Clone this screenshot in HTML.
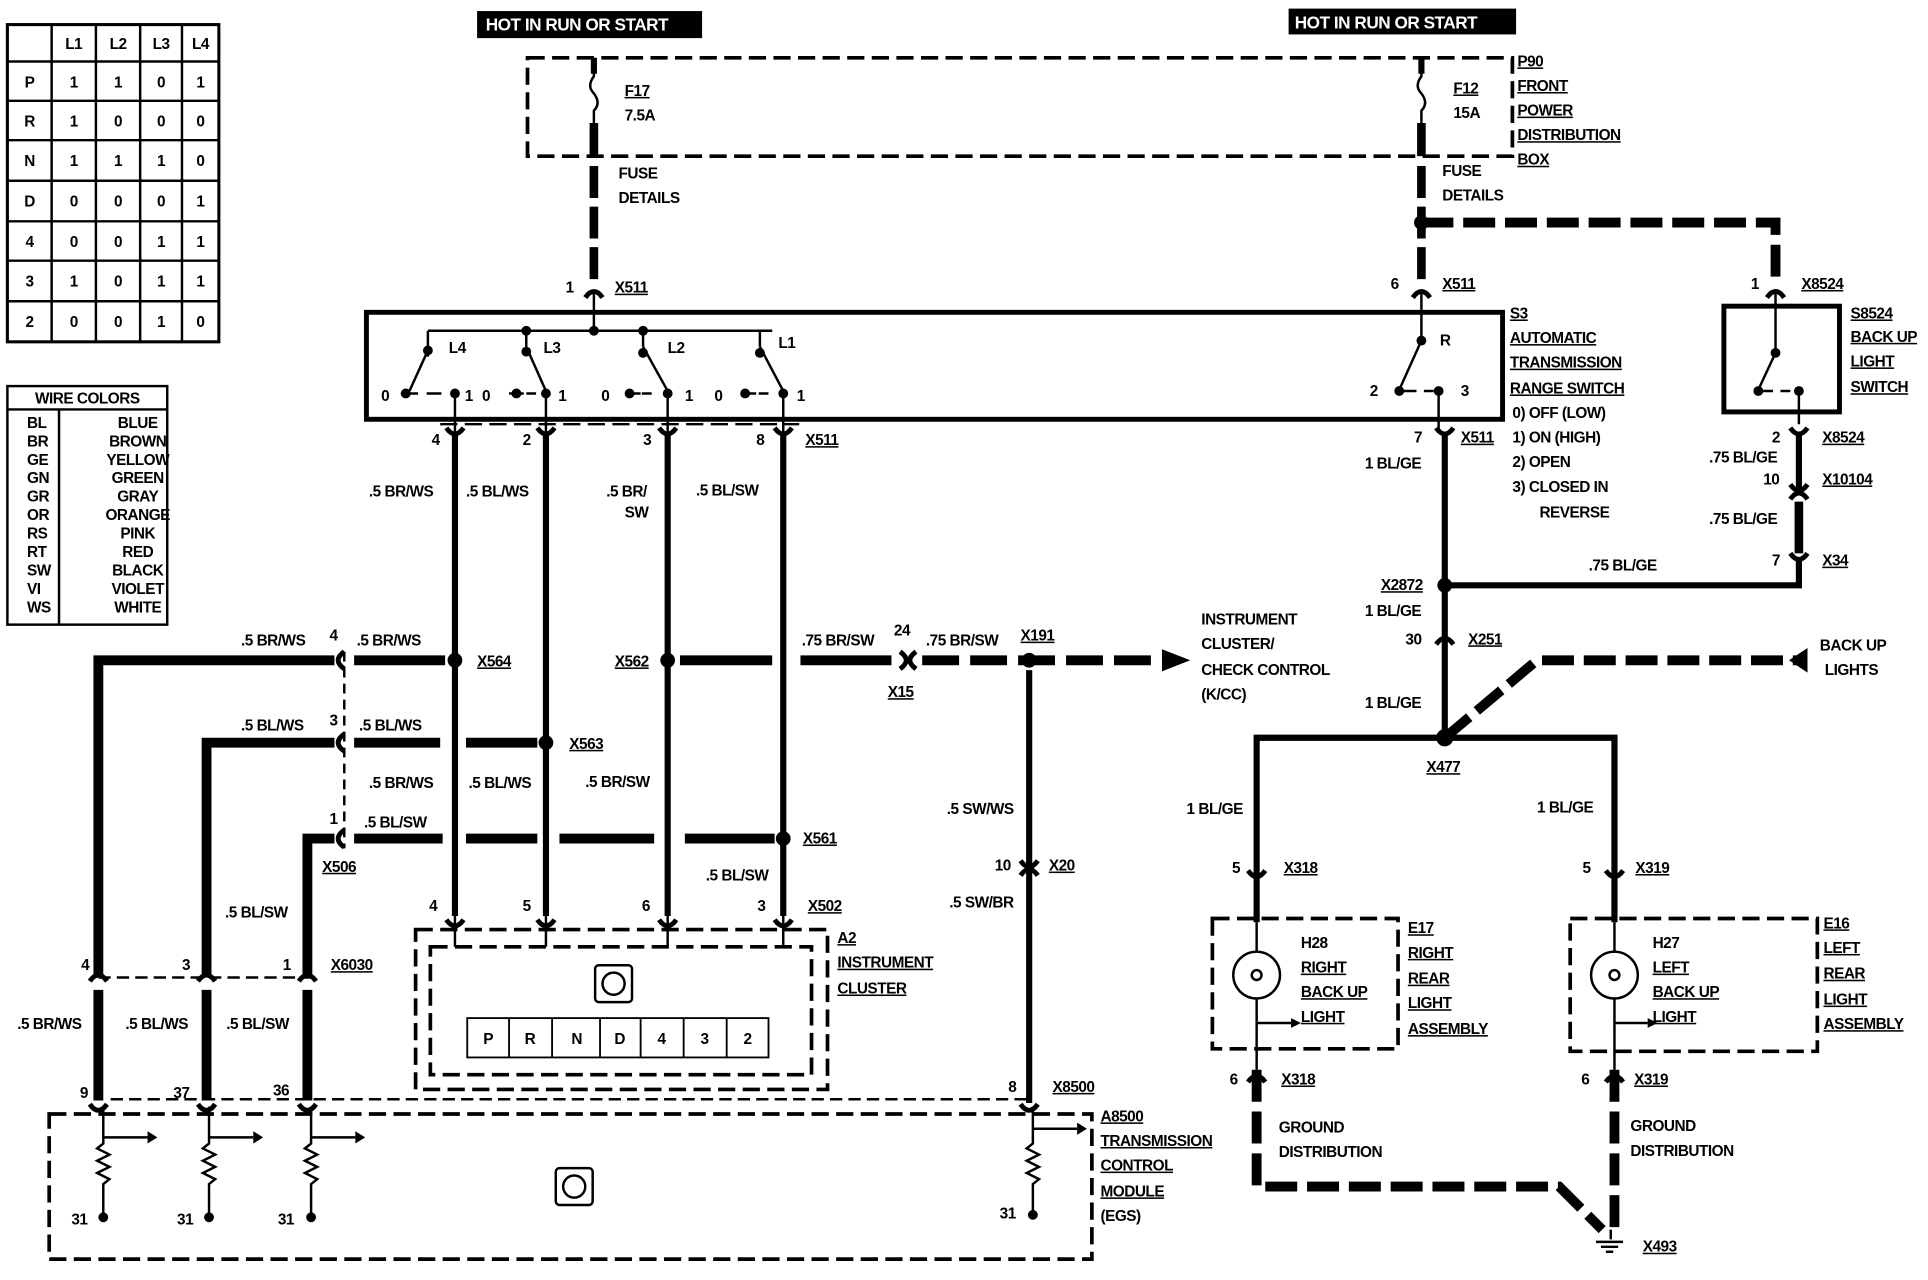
<!DOCTYPE html>
<html><head><meta charset="utf-8"><style>
html,body{margin:0;padding:0;background:#fff}
svg{display:block}
text{font-family:"Liberation Sans",sans-serif;font-size:12.5px;font-weight:bold;fill:#000;letter-spacing:-0.4px}
.u{text-decoration:underline}
</style></head><body>
<svg width="1928" height="1280" viewBox="0 0 1568 1041" preserveAspectRatio="none" xmlns="http://www.w3.org/2000/svg">
<rect width="1568" height="1041" fill="#fff"/>
<g fill="none" stroke="#000">
<rect x="6" y="20" width="172" height="258" stroke-width="2.5"/>
<g stroke-width="2">
<line x1="42" y1="20" x2="42" y2="278"/><line x1="78" y1="20" x2="78" y2="278"/><line x1="114" y1="20" x2="114" y2="278"/><line x1="148" y1="20" x2="148" y2="278"/>
<line x1="6" y1="50" x2="178" y2="50"/><line x1="6" y1="82" x2="178" y2="82"/><line x1="6" y1="114" x2="178" y2="114"/><line x1="6" y1="147" x2="178" y2="147"/><line x1="6" y1="180" x2="178" y2="180"/><line x1="6" y1="212" x2="178" y2="212"/><line x1="6" y1="245" x2="178" y2="245"/>
</g>
<rect x="6" y="314" width="130" height="194" stroke-width="2"/>
<line x1="6" y1="333" x2="136" y2="333" stroke-width="2"/>
<line x1="48" y1="333" x2="48" y2="508" stroke-width="2"/>
<rect x="429" y="47" width="801" height="80" stroke-width="3" stroke-dasharray="14 6"/>
<path d="M483 47 V62 q-6 8 0 14 q6 8 0 14 V100" stroke-width="2"/>
<path d="M1156 47 V62 q-6 8 0 14 q6 8 0 14 V100" stroke-width="2"/>
<line x1="483" y1="47" x2="483" y2="60" stroke-width="5"/>
<line x1="1156" y1="47" x2="1156" y2="60" stroke-width="5"/>
<line x1="483" y1="100" x2="483" y2="127" stroke-width="7"/>
<line x1="1156" y1="100" x2="1156" y2="127" stroke-width="7"/>
<line x1="483" y1="135" x2="483" y2="232" stroke-width="7" stroke-dasharray="26 7"/>
<line x1="1156" y1="135" x2="1156" y2="232" stroke-width="7" stroke-dasharray="26 7"/>
<path d="M1156 181 H1444 V232" stroke-width="8" stroke-dasharray="26 8"/>
<rect x="298" y="254" width="924" height="87" stroke-width="4"/>
<path d="M483 238 V269 M348 269 H628 M348 269 V290 M428 269 V282 M523 269 V282 M618 269 V282" stroke-width="2"/>
<g stroke-width="2">
<path d="M348 285 L333 318 M326 320 h14 M347 320 h12"/>
<path d="M428 282 L444 318 M414 320 h12 M428 320 h8"/>
<path d="M523 282 L543 318 M509 320 h12 M522 320 h8"/>
<path d="M618 282 L637 318 M603 320 h12 M617 320 h8"/>
<path d="M1156 238 V277 L1138 317 M1140 318 h12 M1158 318 h8"/>
<path d="M370 320 V352 M444 320 V352 M543 320 V352 M637 320 V352 M1170 318 V352"/>
</g>
<rect x="1402" y="249" width="94" height="86" stroke-width="4"/>
<path d="M1444 238 V287 L1430 317 M1432 318 h10 M1448 318 h8 M1463 318 V345" stroke-width="2"/>
<g stroke-width="5">
<line x1="370" y1="352" x2="370" y2="745"/><line x1="444" y1="352" x2="444" y2="745"/><line x1="543" y1="352" x2="543" y2="745"/><line x1="637" y1="352" x2="637" y2="745"/>
<line x1="1175" y1="352" x2="1175" y2="600"/>
<line x1="1463" y1="352" x2="1463" y2="400"/>
<path d="M1175 476 H1463 V455"/>
<path d="M1022 750 V600 H1313 V750" />
<line x1="837" y1="545" x2="837" y2="897"/>
</g>
<line x1="1463" y1="408" x2="1463" y2="450" stroke-width="7"/>
<path d="M1175 600 L1250 537 H1465" stroke-width="8" stroke-dasharray="26 8"/>
<path d="M358 345 H650" stroke-width="2" stroke-dasharray="14 6"/>
<g stroke-width="8">
<path d="M80 795 V537 H272"/><path d="M168 795 V604 H272"/><path d="M250 795 V682 H272"/>
<line x1="80" y1="805" x2="80" y2="895"/><line x1="168" y1="805" x2="168" y2="895"/><line x1="250" y1="805" x2="250" y2="895"/>
<line x1="288" y1="537" x2="362" y2="537"/>
<line x1="553" y1="537" x2="628" y2="537"/>
<line x1="651" y1="537" x2="725" y2="537"/>
<line x1="288" y1="604" x2="358" y2="604"/>
<line x1="379" y1="604" x2="437" y2="604"/>
<line x1="288" y1="682" x2="360" y2="682"/>
<line x1="379" y1="682" x2="437" y2="682"/>
<line x1="455" y1="682" x2="532" y2="682"/>
<line x1="557" y1="682" x2="630" y2="682"/>
</g>
<line x1="750" y1="537" x2="945" y2="537" stroke-width="8" stroke-dasharray="30 9"/>
<path d="M280 530 V690" stroke-width="2" stroke-dasharray="8 5"/>
<path d="M80 795 H255" stroke-width="2" stroke-dasharray="10 5"/>
<path d="M90 894 H837" stroke-width="2" stroke-dasharray="10 5"/>
<rect x="338" y="756" width="335" height="130" stroke-width="3" stroke-dasharray="14 6"/>
<rect x="350" y="770" width="310" height="104" stroke-width="3" stroke-dasharray="14 6"/>
<path d="M370 745 V770 M444 745 V770 M543 745 V770 M637 745 V770" stroke-width="2"/>
<rect x="484" y="785" width="30" height="30" rx="3" stroke-width="2"/>
<circle cx="499" cy="800" r="9" stroke-width="2"/>
<rect x="380" y="828" width="245" height="32" stroke-width="1.5"/>
<path d="M414 828 V860 M449 828 V860 M488 828 V860 M521 828 V860 M556 828 V860 M591 828 V860" stroke-width="1.5"/>
<rect x="40" y="906" width="848" height="118" stroke-width="3" stroke-dasharray="14 6"/>
<rect x="452" y="950" width="30" height="30" rx="3" stroke-width="2"/>
<circle cx="467" cy="965" r="9" stroke-width="2"/>
<g stroke-width="2">
<path d="M84 900 V930 l-5 4 10 5 -10 5 10 5 -10 5 10 5 -5 4 V990 M84 925 H120"/>
<path d="M170 900 V930 l-5 4 10 5 -10 5 10 5 -10 5 10 5 -5 4 V990 M170 925 H206"/>
<path d="M253 900 V930 l-5 4 10 5 -10 5 10 5 -10 5 10 5 -5 4 V990 M253 925 H289"/>
<path d="M840 900 V930 l-5 4 10 5 -10 5 10 5 -10 5 10 5 -5 4 V990 M840 918 H876"/>
</g>
<rect x="986" y="747" width="151" height="106" stroke-width="3" stroke-dasharray="14 6"/>
<rect x="1277" y="747" width="201" height="108" stroke-width="3" stroke-dasharray="14 6"/>
<circle cx="1022" cy="793" r="19" stroke-width="2"/>
<circle cx="1313" cy="793" r="19" stroke-width="2"/>
<path d="M1022 750 V774 M1022 812 V870 M1022 832 H1050 M1313 750 V774 M1313 812 V870 M1313 832 H1340" stroke-width="2"/>
<path d="M1022 870 V965 H1268 L1303 1000" stroke-width="8" stroke-dasharray="26 8"/>
<path d="M1313 870 V1000" stroke-width="8" stroke-dasharray="26 8"/>
<path d="M1310 1000 V1008 M1298 1010 H1320 M1302 1014 H1316 M1306 1018 H1312" stroke-width="2"/>
</g>
<g fill="none" stroke="#000" stroke-width="4">
<path d="M476 242 q7-10 14 0"/><path d="M1149 242 q7-10 14 0"/><path d="M1437 242 q7-10 14 0"/>
<path d="M363 348 q7 10 14 0"/><path d="M437 348 q7 10 14 0"/><path d="M536 348 q7 10 14 0"/><path d="M630 348 q7 10 14 0"/>
<path d="M1168 348 q7 10 14 0"/><path d="M1456 348 q7 10 14 0"/><path d="M1456 394 q7 10 14 0"/><path d="M1456 406 q7-10 14 0"/><path d="M1456 450 q7 10 14 0"/>
<path d="M1168 524 q7-10 14 0"/>
<path d="M363 748 q7 10 14 0"/><path d="M437 748 q7 10 14 0"/><path d="M536 748 q7 10 14 0"/><path d="M630 748 q7 10 14 0"/>
<path d="M73 798 q7-10 14 0"/><path d="M161 798 q7-10 14 0"/><path d="M243 798 q7-10 14 0"/>
<path d="M73 898 q7 10 14 0"/><path d="M161 898 q7 10 14 0"/><path d="M243 898 q7 10 14 0"/><path d="M830 898 q7 10 14 0"/>
<path d="M830 712 q7-10 14 0"/><path d="M830 700 q7 10 14 0"/>
<path d="M1015 708 q7 10 14 0"/><path d="M1306 708 q7 10 14 0"/>
<path d="M1015 880 q7-10 14 0"/><path d="M1306 880 q7-10 14 0"/>
<path d="M280 530 q-10 7 0 14"/><path d="M280 597 q-10 7 0 14"/><path d="M280 675 q-10 7 0 14"/>
<path d="M745 530 q-10 7 0 14"/><path d="M732 530 q10 7 0 14"/>
</g>
<g fill="#000">
<circle cx="483" cy="269" r="4"/><circle cx="428" cy="269" r="4"/><circle cx="523" cy="269" r="4"/><circle cx="348" cy="285" r="4"/><circle cx="428" cy="286" r="4"/><circle cx="523" cy="287" r="4"/><circle cx="618" cy="287" r="4"/>
<circle cx="330" cy="320" r="4"/><circle cx="370" cy="320" r="4"/><circle cx="420" cy="320" r="4"/><circle cx="444" cy="320" r="4"/><circle cx="512" cy="320" r="4"/><circle cx="543" cy="320" r="4"/><circle cx="606" cy="320" r="4"/><circle cx="637" cy="320" r="4"/>
<circle cx="1156" cy="277" r="4"/><circle cx="1138" cy="318" r="4"/><circle cx="1170" cy="318" r="4"/><circle cx="1444" cy="287" r="4"/><circle cx="1430" cy="318" r="4"/><circle cx="1463" cy="318" r="4"/>
<circle cx="1156" cy="181" r="6"/><circle cx="1175" cy="476" r="6"/><circle cx="1175" cy="600" r="7"/>
<circle cx="370" cy="537" r="6"/><circle cx="543" cy="537" r="6"/><circle cx="444" cy="604" r="6"/><circle cx="637" cy="682" r="6"/><circle cx="837" cy="537" r="6"/>
<circle cx="84" cy="990" r="4"/><circle cx="170" cy="990" r="4"/><circle cx="253" cy="990" r="4"/><circle cx="840" cy="988" r="4"/>
<polygon points="945,528 968,537 945,546"/><polygon points="1470,527 1470,547 1455,537"/>
<polygon points="120,920 128,925 120,930"/><polygon points="206,920 214,925 206,930"/><polygon points="289,920 297,925 289,930"/><polygon points="876,913 884,918 876,923"/>
<polygon points="1050,828 1058,832 1050,836"/><polygon points="1340,828 1348,832 1340,836"/>
<circle cx="1022" cy="793" r="4" fill="none" stroke="#000" stroke-width="2"/><circle cx="1313" cy="793" r="4" fill="none" stroke="#000" stroke-width="2"/>
<rect x="388" y="9" width="183" height="22"/><rect x="1048" y="7" width="185" height="21"/>
</g>
<text x="395" y="25" style="fill:#fff;font-size:14px">HOT IN RUN OR START</text>
<text x="1053" y="23" style="fill:#fff;font-size:14px">HOT IN RUN OR START</text>
<g text-anchor="middle">
<text x="60" y="40">L1</text><text x="96" y="40">L2</text><text x="131" y="40">L3</text><text x="163" y="40">L4</text>
<text x="24" y="71">P</text><text x="60" y="71">1</text><text x="96" y="71">1</text><text x="131" y="71">0</text><text x="163" y="71">1</text>
<text x="24" y="103">R</text><text x="60" y="103">1</text><text x="96" y="103">0</text><text x="131" y="103">0</text><text x="163" y="103">0</text>
<text x="24" y="135">N</text><text x="60" y="135">1</text><text x="96" y="135">1</text><text x="131" y="135">1</text><text x="163" y="135">0</text>
<text x="24" y="168">D</text><text x="60" y="168">0</text><text x="96" y="168">0</text><text x="131" y="168">0</text><text x="163" y="168">1</text>
<text x="24" y="201">4</text><text x="60" y="201">0</text><text x="96" y="201">0</text><text x="131" y="201">1</text><text x="163" y="201">1</text>
<text x="24" y="233">3</text><text x="60" y="233">1</text><text x="96" y="233">0</text><text x="131" y="233">1</text><text x="163" y="233">1</text>
<text x="24" y="266">2</text><text x="60" y="266">0</text><text x="96" y="266">0</text><text x="131" y="266">1</text><text x="163" y="266">0</text>
<text x="71" y="328">WIRE COLORS</text>
<text x="112" y="348">BLUE</text><text x="112" y="363">BROWN</text><text x="112" y="378">YELLOW</text><text x="112" y="393">GREEN</text><text x="112" y="408">GRAY</text><text x="112" y="423">ORANGE</text><text x="112" y="438">PINK</text><text x="112" y="453">RED</text><text x="112" y="468">BLACK</text><text x="112" y="483">VIOLET</text><text x="112" y="498">WHITE</text>
</g>
<text x="22" y="348">BL</text><text x="22" y="363">BR</text><text x="22" y="378">GE</text><text x="22" y="393">GN</text><text x="22" y="408">GR</text><text x="22" y="423">OR</text><text x="22" y="438">RS</text><text x="22" y="453">RT</text><text x="22" y="468">SW</text><text x="22" y="483">VI</text><text x="22" y="498">WS</text>
<text x="508" y="78" class="u">F17</text><text x="508" y="98">7.5A</text>
<text x="1182" y="76" class="u">F12</text><text x="1182" y="96">15A</text>
<text x="503" y="145">FUSE</text><text x="503" y="165">DETAILS</text>
<text x="1173" y="143">FUSE</text><text x="1173" y="163">DETAILS</text>
<text x="1234" y="54" class="u">P90</text><text x="1234" y="74" class="u">FRONT</text><text x="1234" y="94" class="u">POWER</text><text x="1234" y="114" class="u">DISTRIBUTION</text><text x="1234" y="134" class="u">BOX</text>
<text x="460" y="238">1</text><text x="500" y="238" class="u">X511</text>
<text x="1131" y="235">6</text><text x="1173" y="235" class="u">X511</text>
<text x="1424" y="235">1</text><text x="1465" y="235" class="u">X8524</text>
<text x="365" y="287">L4</text><text x="442" y="287">L3</text><text x="543" y="287">L2</text><text x="633" y="283">L1</text>
<text x="310" y="326">0</text><text x="378" y="326">1</text><text x="392" y="326">0</text><text x="454" y="326">1</text><text x="489" y="326">0</text><text x="557" y="326">1</text><text x="581" y="326">0</text><text x="648" y="326">1</text>
<text x="1171" y="281">R</text><text x="1114" y="322">2</text><text x="1188" y="322">3</text>
<text x="1228" y="259" class="u">S3</text><text x="1228" y="279" class="u">AUTOMATIC</text><text x="1228" y="299" class="u">TRANSMISSION</text><text x="1228" y="320" class="u">RANGE SWITCH</text>
<text x="1230" y="340">0)   OFF (LOW)</text><text x="1230" y="360">1)   ON (HIGH)</text><text x="1230" y="380">2)   OPEN</text><text x="1230" y="400">3)   CLOSED IN</text><text x="1252" y="421">REVERSE</text>
<text x="1505" y="259" class="u">S8524</text><text x="1505" y="278" class="u">BACK UP</text><text x="1505" y="298" class="u">LIGHT</text><text x="1505" y="319" class="u">SWITCH</text>
<text x="351" y="362">4</text><text x="425" y="362">2</text><text x="523" y="362">3</text><text x="615" y="362">8</text><text x="655" y="362" class="u">X511</text>
<text x="1150" y="360">7</text><text x="1188" y="360" class="u">X511</text>
<text x="1110" y="381">1 BL/GE</text>
<text x="1441" y="360">2</text><text x="1482" y="360" class="u">X8524</text>
<text x="1390" y="376">.75 BL/GE</text><text x="1434" y="394">10</text><text x="1482" y="394" class="u">X10104</text>
<text x="1390" y="426">.75 BL/GE</text><text x="1441" y="460">7</text><text x="1482" y="460" class="u">X34</text>
<text x="1292" y="464">.75 BL/GE</text>
<text x="1123" y="480" class="u">X2872</text><text x="1110" y="501">1 BL/GE</text>
<text x="1143" y="524">30</text><text x="1194" y="524" class="u">X251</text>
<text x="1110" y="576">1 BL/GE</text><text x="1160" y="628" class="u">X477</text>
<text x="1480" y="529">BACK UP</text><text x="1484" y="549">LIGHTS</text>
<text x="977" y="508">INSTRUMENT</text><text x="977" y="528">CLUSTER/</text><text x="977" y="549">CHECK CONTROL</text><text x="977" y="569">(K/CC)</text>
<text x="300" y="404">.5 BR/WS</text><text x="379" y="404">.5 BL/WS</text><text x="493" y="404">.5 BR/</text><text x="508" y="421">SW</text><text x="566" y="403">.5 BL/SW</text>
<text x="196" y="525">.5 BR/WS</text><text x="268" y="521">4</text><text x="290" y="525">.5 BR/WS</text><text x="388" y="542" class="u">X564</text>
<text x="500" y="542" class="u">X562</text><text x="652" y="525">.75 BR/SW</text><text x="727" y="517">24</text><text x="753" y="525">.75 BR/SW</text><text x="830" y="521" class="u">X191</text><text x="722" y="567" class="u">X15</text>
<text x="196" y="594">.5 BL/WS</text><text x="268" y="590">3</text><text x="292" y="594">.5 BL/WS</text><text x="463" y="609" class="u">X563</text>
<text x="300" y="641">.5 BR/WS</text><text x="381" y="641">.5 BL/WS</text><text x="476" y="640">.5 BR/SW</text>
<text x="268" y="670">1</text><text x="296" y="673">.5 BL/SW</text><text x="653" y="686" class="u">X561</text>
<text x="262" y="709" class="u">X506</text>
<text x="770" y="662">.5 SW/WS</text><text x="809" y="708">10</text><text x="853" y="708" class="u">X20</text><text x="772" y="738">.5 SW/BR</text>
<text x="574" y="716">.5 BL/SW</text>
<text x="183" y="746">.5 BL/SW</text>
<text x="349" y="741">4</text><text x="425" y="741">5</text><text x="522" y="741">6</text><text x="616" y="741">3</text><text x="657" y="741" class="u">X502</text>
<text x="681" y="767" class="u">A2</text><text x="681" y="787" class="u">INSTRUMENT</text><text x="681" y="808" class="u">CLUSTER</text>
<text x="66" y="789">4</text><text x="148" y="789">3</text><text x="230" y="789">1</text><text x="269" y="789" class="u">X6030</text>
<text x="14" y="837">.5 BR/WS</text><text x="102" y="837">.5 BL/WS</text><text x="184" y="837">.5 BL/SW</text>
<text x="65" y="893">9</text><text x="141" y="893">37</text><text x="222" y="891">36</text><text x="820" y="888">8</text><text x="856" y="888" class="u">X8500</text>
<text x="895" y="912" class="u">A8500</text><text x="895" y="932" class="u">TRANSMISSION</text><text x="895" y="952" class="u">CONTROL</text><text x="895" y="973" class="u">MODULE</text><text x="895" y="993">(EGS)</text>
<text x="58" y="996">31</text><text x="144" y="996">31</text><text x="226" y="996">31</text><text x="813" y="991">31</text>
<g text-anchor="middle" style="font-size:13px"><text x="397" y="849">P</text><text x="431" y="849">R</text><text x="469" y="849">N</text><text x="504" y="849">D</text><text x="538" y="849">4</text><text x="573" y="849">3</text><text x="608" y="849">2</text></g>
<text x="965" y="662">1 BL/GE</text><text x="1250" y="661">1 BL/GE</text>
<text x="1002" y="710">5</text><text x="1044" y="710" class="u">X318</text><text x="1287" y="710">5</text><text x="1330" y="710" class="u">X319</text>
<text x="1058" y="771">H28</text><text x="1058" y="791" class="u">RIGHT</text><text x="1058" y="811" class="u">BACK UP</text><text x="1058" y="831" class="u">LIGHT</text>
<text x="1344" y="771">H27</text><text x="1344" y="791" class="u">LEFT</text><text x="1344" y="811" class="u">BACK UP</text><text x="1344" y="831" class="u">LIGHT</text>
<text x="1145" y="759" class="u">E17</text><text x="1145" y="779" class="u">RIGHT</text><text x="1145" y="800" class="u">REAR</text><text x="1145" y="820" class="u">LIGHT</text><text x="1145" y="841" class="u">ASSEMBLY</text>
<text x="1483" y="755" class="u">E16</text><text x="1483" y="775" class="u">LEFT</text><text x="1483" y="796" class="u">REAR</text><text x="1483" y="817" class="u">LIGHT</text><text x="1483" y="837" class="u">ASSEMBLY</text>
<text x="1000" y="882">6</text><text x="1042" y="882" class="u">X318</text><text x="1286" y="882">6</text><text x="1329" y="882" class="u">X319</text>
<text x="1040" y="921">GROUND</text><text x="1040" y="941">DISTRIBUTION</text><text x="1326" y="920">GROUND</text><text x="1326" y="940">DISTRIBUTION</text>
<text x="1336" y="1018" class="u">X493</text>
</svg>
</body></html>
